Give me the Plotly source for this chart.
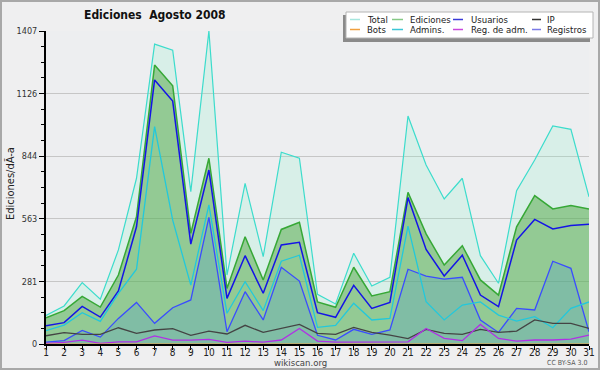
import plotly.graph_objects as go

days = list(range(1, 32))
total = [128, 171, 276, 201, 423, 745, 1348, 1321, 685, 1407, 310, 722, 393, 862, 835, 223,
         180, 408, 261, 300, 1025, 805, 652, 745, 397, 273, 689, 827, 980, 965, 662]
ediciones = [118, 150, 214, 166, 310, 572, 1254, 1161, 497, 835, 250, 482, 288, 515, 547, 189,
             165, 345, 216, 235, 682, 495, 355, 442, 288, 220, 527, 667, 607, 623, 607]
usuarios = [82, 96, 169, 121, 238, 527, 1187, 1092, 449, 782, 205, 397, 228, 445, 457, 141,
            120, 264, 160, 187, 658, 425, 306, 399, 220, 168, 467, 560, 517, 533, 538]
admins = [60, 85, 141, 102, 228, 336, 977, 557, 265, 625, 138, 280, 150, 372, 399, 75,
          84, 183, 108, 115, 530, 190, 108, 175, 189, 130, 103, 123, 73, 160, 189]
registros = [8, 15, 61, 31, 115, 187, 93, 163, 198, 569, 55, 235, 108, 345, 283, 39,
             18, 66, 43, 63, 336, 305, 292, 300, 108, 52, 160, 153, 372, 340, 55]
ip = [37, 51, 43, 43, 73, 48, 63, 69, 39, 58, 45, 84, 52, 70, 88, 48,
      43, 75, 52, 40, 24, 66, 48, 43, 66, 52, 58, 108, 93, 93, 70]
reg_adm = [3, 7, 17, 3, 10, 10, 36, 17, 17, 21, 7, 13, 8, 18, 70, 13,
           8, 8, 8, 8, 10, 70, 25, 15, 88, 25, 13, 18, 18, 22, 40]
bots = [0] * 31

y_ticks = [0, 281, 563, 844, 1126, 1407]
title_text = "Ediciones  Agosto 2008"
y_title = "Ediciones/dÃ-a"
legend_rows = [["Total", "Ediciones", "Usuarios", "IP"],
               ["Bots", "Admins.", "Reg. de adm.", "Registros"]]
legend_colors = {"Total": "#a6e6de", "Ediciones": "#86c986", "Usuarios": "#3a3ad8", "IP": "#333333",
                 "Bots": "#f0a040", "Admins.": "#3cc6d6", "Reg. de adm.": "#c848dc", "Registros": "#7a7ae6"}

FONT = "DejaVu Sans Condensed, Liberation Sans Narrow, DejaVu Sans, sans-serif"

# plot area geometry (pixels)
L, R, T, B = 46, 589, 31, 344
W, H = 600, 370


def px(x):
    return (x - L) / (R - L)


def py(y):
    return (B - y) / (B - T)


fig = go.Figure()


def add(name, y, color, width=1.2, fill=None, fillcolor=None):
    fig.add_trace(go.Scatter(x=days, y=y, name=name, mode="lines",
                             line=dict(color=color, width=width),
                             fill=fill, fillcolor=fillcolor,
                             hoverinfo="skip", showlegend=False))


add("Total", total, "#3cdccc", 1.2, "tozeroy", "rgba(133,244,200,0.2)")
add("Ediciones", ediciones, "#36a836", 1.5, "tozeroy", "rgba(77,166,64,0.5)")
add("Registros", registros, "#3a4cff", 1.3, "tozeroy", "rgba(71,151,216,0.25)")
add("Usuarios", usuarios, "#1414e6", 1.5)
add("Admins.", admins, "#22c8dc", 1.3)
add("IP", ip, "#444444", 1.3)
add("Reg. de adm.", reg_adm, "#b030e6", 1.3)
add("Bots", bots, "#f0a040", 1.0)

minor_vals = []
for a, b in zip(y_ticks[:-1], y_ticks[1:]):
    for k in (1, 2, 3):
        minor_vals.append(a + (b - a) * k / 4)

shapes = []
annotations = []

# outer frame
shapes.append(dict(type="rect", xref="paper", yref="paper", x0=px(1), x1=px(599), y0=py(369), y1=py(1),
                   line=dict(color="#a8a8a8", width=2), fillcolor="rgba(0,0,0,0)", layer="above"))

# legend box with shadow
shapes.append(dict(type="rect", xref="paper", yref="paper", x0=px(343), x1=px(590), y0=py(42), y1=py(15),
                   line=dict(width=0), fillcolor="#8a8a8a", layer="above"))
shapes.append(dict(type="rect", xref="paper", yref="paper", x0=px(346), x1=px(593), y0=py(38), y1=py(12),
                   line=dict(color="#b4b4b4", width=1), fillcolor="#ffffff", layer="above"))

col_line = [(350, 360), (392, 403), (453, 463), (532, 541)]
col_text = [365, 408, 469, 545]
row_y = [19.5, 29.5]
for r, row in enumerate(legend_rows):
    for c, name in enumerate(row):
        x0, x1 = col_line[c]
        shapes.append(dict(type="line", xref="paper", yref="paper", x0=px(x0), x1=px(x1),
                           y0=py(row_y[r]), y1=py(row_y[r]),
                           line=dict(color=legend_colors[name], width=1.5), layer="above"))
        annotations.append(dict(text=name, xref="paper", yref="paper", x=px(col_text[c]), y=py(row_y[r]),
                                xanchor="left", yanchor="middle", showarrow=False,
                                font=dict(family=FONT, size=9.5, color="#222222")))

annotations.append(dict(text="<b>" + title_text + "</b>", xref="paper", yref="paper",
                        x=px(155), y=py(15), xanchor="center", yanchor="middle", showarrow=False,
                        font=dict(family=FONT, size=12, color="#111111")))
annotations.append(dict(text=y_title, xref="paper", yref="paper", x=px(10), y=py(184),
                        xanchor="center", yanchor="middle", textangle=-90, showarrow=False,
                        font=dict(family=FONT, size=11, color="#222222")))
annotations.append(dict(text="wikiscan.org", xref="paper", yref="paper", x=px(300), y=py(362.5),
                        xanchor="center", yanchor="middle", showarrow=False,
                        font=dict(family=FONT, size=9.5, color="#444444")))
annotations.append(dict(text="CC BY-SA 3.0", xref="paper", yref="paper", x=px(589), y=py(363),
                        xanchor="right", yanchor="middle", showarrow=False,
                        font=dict(family=FONT, size=7, color="#555555")))

fig.update_layout(
    width=W, height=H, autosize=False,
    margin=dict(l=L, r=W - R, t=T, b=H - B, pad=0, autoexpand=False),
    paper_bgcolor="#efeff0", plot_bgcolor="#edeef0",
    showlegend=False,
    shapes=shapes, annotations=annotations,
    xaxis=dict(range=[1, 31], autorange=False, tickvals=days, ticks="outside", ticklen=4, tickcolor="#000",
               tickwidth=1, showline=True, linecolor="#000", linewidth=2, showgrid=False,
               zeroline=False, fixedrange=True, automargin=False, ticklabelstandoff=-6,
               tickfont=dict(family=FONT, size=10, color="#222")),
    yaxis=dict(range=[0, 1407], autorange=False, tickvals=y_ticks, ticktext=[str(v) for v in y_ticks],
               ticks="outside", ticklen=5, tickcolor="#000", tickwidth=1,
               showline=True, linecolor="#000", linewidth=2, automargin=False,
               showgrid=True, gridcolor="#c6c6c6", gridwidth=1, zeroline=False, fixedrange=True,
               minor=dict(tickvals=minor_vals, ticks="outside", ticklen=3, tickcolor="#000", showgrid=False),
               tickfont=dict(family=FONT, size=9, color="#333")),
)

fig.write_html("out.html", config={"displayModeBar": False, "responsive": False},
               post_script="document.body.style.margin='0';document.body.style.overflow='hidden';")
